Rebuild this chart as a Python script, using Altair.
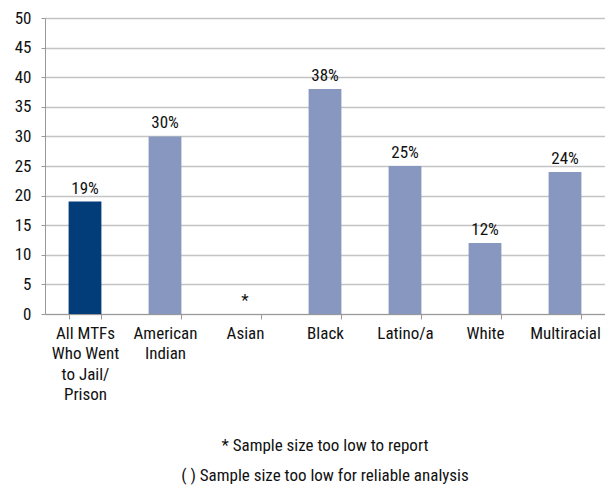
import altair as alt
import pandas as pd

categories = ["All MTFs|Who Went|to Jail/|Prison", "American|Indian", "Asian", "Black", "Latino/a", "White", "Multiracial"]
values = [19, 30, 0, 38, 25, 12, 24]
labels = ["19%", "30%", "*", "38%", "25%", "12%", "24%"]
groups = ["all", "sub", "none", "sub", "sub", "sub", "sub"]
y_ticks = [0, 5, 10, 15, 20, 25, 30, 35, 40, 45, 50]
footnotes = ["* Sample size too low to report", "( ) Sample size too low for reliable analysis"]

FONT = "Roboto Condensed, Liberation Sans Narrow, Arial Narrow, sans-serif"

df = pd.DataFrame({"cat": categories, "val": values, "lab": labels, "grp": groups})
bars_df = df[df["grp"] != "none"]

x = alt.X("cat:N", sort=categories, title=None,
          scale=alt.Scale(paddingInner=0.59, paddingOuter=0.295),
          axis=alt.Axis(labelAngle=0, labelExpr="split(datum.label, '|')", labelFontSize=17,
                        labelLineHeight=20.5, labelColor="#111", labelFont=FONT, labelPadding=6,
                        tickBand="extent", tickColor="#999", tickSize=5, domainColor="#999",
                        labelBaseline="top", labelOverlap=False))
y = alt.Y("val:Q", title=None, scale=alt.Scale(domain=[0, 50], nice=False),
          axis=alt.Axis(values=y_ticks, labelFontSize=17, labelColor="#111", labelFont=FONT,
                        gridColor="#c4c4c4", gridWidth=1.3, domainColor="#999", tickColor="#999",
                        tickSize=4, labelPadding=10, labelOverlap=False, labelFlush=False))

bars = alt.Chart(bars_df).mark_bar().encode(
    x=x, y=y,
    color=alt.Color("grp:N", scale=alt.Scale(domain=["all", "sub"], range=["#023c79", "#8797c0"]), legend=None),
)

text = alt.Chart(df).mark_text(dy=-8, fontSize=17, font=FONT, color="#111", baseline="alphabetic").encode(
    x=x, y=y, text="lab:N")

foot = alt.Chart(pd.DataFrame({"t": ["\n".join(footnotes)]})).mark_text(
    fontSize=17, font=FONT, color="#111", baseline="middle", align="center",
    lineBreak="\n", lineHeight=30).encode(
    x=alt.value(280), y=alt.value(428), text="t:N")

chart = alt.layer(bars, text, foot).properties(
    width=560, height=296,
    autosize=alt.AutoSizeParams(type="none"),
    padding={"left": 37, "top": 10, "right": 0, "bottom": 172},
).configure_view(stroke=None).configure(background="white")

chart.save("out.html", embed_options={"renderer": "svg", "actions": False})
